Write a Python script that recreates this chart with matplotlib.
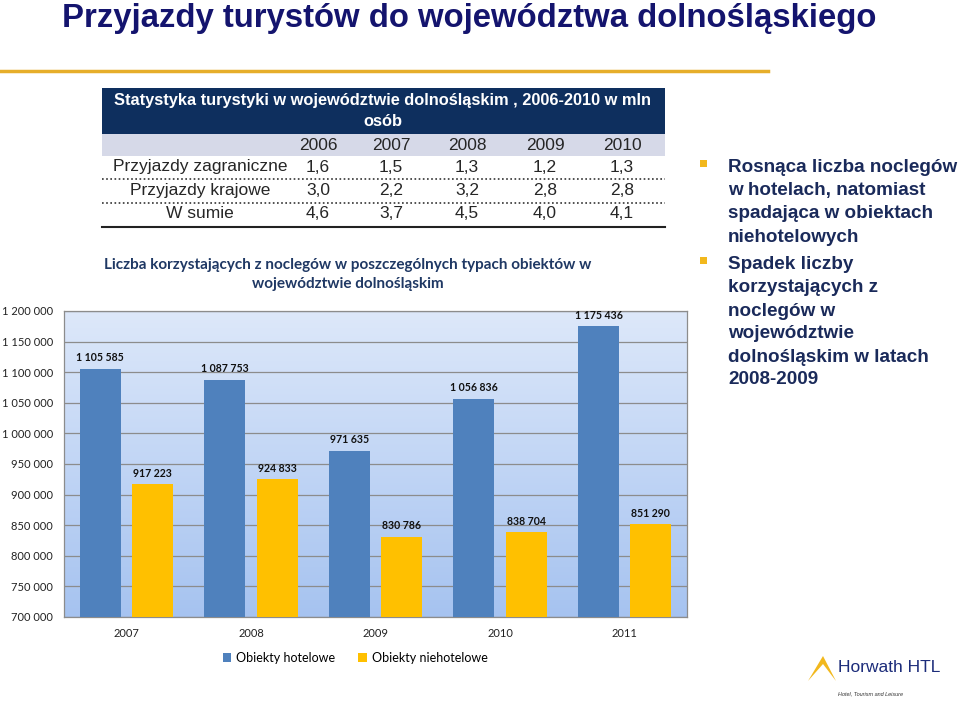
import numpy as np
import matplotlib.pyplot as plt
from matplotlib.patches import Rectangle, Polygon
from matplotlib.lines import Line2D
from matplotlib.colors import LinearSegmentedColormap

# chart data
years = ['2007', '2008', '2009', '2010', '2011']
hotelowe = [1105585, 1087753, 971635, 1056836, 1175436]
niehotelowe = [917223, 924833, 830786, 838704, 851290]
series_names = ['Obiekty hotelowe', 'Obiekty niehotelowe']

# table data
tab_years = ['2006', '2007', '2008', '2009', '2010']
tab_rows = ['Przyjazdy zagraniczne', 'Przyjazdy krajowe', 'W sumie']
tab_vals = [
    ['1,6', '1,5', '1,3', '1,2', '1,3'],
    ['3,0', '2,2', '3,2', '2,8', '2,8'],
    ['4,6', '3,7', '4,5', '4,0', '4,1'],
]

bullets = [
    ['Rosnąca liczba noclegów', 'w hotelach, natomiast', 'spadająca w obiektach', 'niehotelowych'],
    ['Spadek liczby', 'korzystających z', 'noclegów w', 'województwie', 'dolnośląskim w latach', '2008-2009'],
]

W, H = 960, 702
fig = plt.figure(figsize=(9.6, 7.02), dpi=100)
fig.patch.set_facecolor('white')


def fx(px):
    return px / W


def fy(py):
    return 1 - py / H


def fmt(v):
    return f'{v:,}'.replace(',', ' ')


navy_title = '#14146e'
sans = ['Liberation Sans', 'DejaVu Sans']
cal = ['Lato', 'DejaVu Sans']

# slide title and orange rule
fig.text(fx(62), fy(19), 'Przyjazdy turystów do województwa dolnośląskiego',
         fontsize=23.7, fontweight='bold', color=navy_title, family=sans,
         ha='left', va='center')
fig.add_artist(Line2D([0, fx(768)], [fy(71), fy(71)], color='#e6ae2a', lw=2.5))

# table
tx0, tx1 = 102, 665
fig.add_artist(Rectangle((fx(tx0), fy(134)), fx(tx1 - tx0), (134 - 88) / H,
                         facecolor='#0e2f5e', edgecolor='none'))
fig.add_artist(Rectangle((fx(tx0), fy(156)), fx(tx1 - tx0), (156 - 134) / H,
                         facecolor='#d6d9e8', edgecolor='none'))
fig.text(fx(383), fy(100), 'Statystyka turystyki w województwie dolnośląskim , 2006-2010 w mln',
         fontsize=11.8, fontweight='bold', color='white', family=sans, ha='center', va='center')
fig.text(fx(383), fy(122), 'osób', fontsize=11.8, fontweight='bold', color='white',
         family=sans, ha='center', va='center')
col_x = [318, 391, 467, 545, 622]
for x, yr in zip(col_x, tab_years):
    fig.text(fx(x), fy(145), yr, fontsize=12.5, color='#262626', family=sans, ha='center', va='center')
row_y = [167, 190, 214]
for ry, name, vals in zip(row_y, tab_rows, tab_vals):
    fig.text(fx(200), fy(ry), name, fontsize=12.5, color='#262626', family=sans, ha='center', va='center')
    for x, v in zip(col_x, vals):
        fig.text(fx(x), fy(ry), v, fontsize=12.5, color='#262626', family=sans, ha='center', va='center')
for ly in [179, 203]:
    fig.add_artist(Line2D([fx(tx0), fx(tx1)], [fy(ly), fy(ly)], color='#333333', lw=1.2,
                          linestyle=(0, (1, 1.5))))
fig.add_artist(Line2D([fx(tx0), fx(tx1)], [fy(227), fy(227)], color='#222222', lw=1.5))

# bullets on the right
by = 168
for block in bullets:
    fig.add_artist(Rectangle((fx(700), fy(by - 1)), fx(7), 7 / H, facecolor='#f2b81d', edgecolor='none'))
    for line in block:
        fig.text(fx(728), fy(by), line, fontsize=13.6, fontweight='bold', color='#1a2a5a',
                 family=sans, ha='left', va='center')
        by += 23
    by += 5

# chart title
fig.text(fx(348), fy(265), 'Liczba korzystających z noclegów w poszczególnych typach obiektów w',
         fontsize=11, fontweight='bold', color='#1f3864', family=cal, ha='center', va='center')
fig.text(fx(348), fy(284), 'województwie dolnośląskim',
         fontsize=11, fontweight='bold', color='#1f3864', family=cal, ha='center', va='center')

# bar chart
ax = fig.add_axes([fx(64), fy(617), fx(687 - 64), (617 - 311) / H])
ymin, ymax = 700000, 1200000
grad = np.linspace(0, 1, 256).reshape(-1, 1)
cmap = LinearSegmentedColormap.from_list('bg', ['#a6c3f0', '#dde8fa'])
x = np.arange(len(years))
ax.imshow(grad, aspect='auto', cmap=cmap, origin='lower',
          extent=[-0.5, len(years) - 0.5, ymin, ymax], zorder=0)
ax.set_xlim(-0.5, len(years) - 0.5)
ax.set_ylim(ymin, ymax)
ax.set_yticks(np.arange(ymin, ymax + 1, 50000))
ax.yaxis.grid(True, color='#8c8c8c', lw=0.9)
ax.set_axisbelow(True)

bw = 0.33
off = 0.21
b1 = ax.bar(x - off, hotelowe, bw, color='#4f81bd', zorder=3, label=series_names[0])
b2 = ax.bar(x + off, niehotelowe, bw, color='#ffc000', zorder=3, label=series_names[1])
for bars in (b1, b2):
    for r in bars:
        ax.text(r.get_x() + r.get_width() / 2, r.get_height() + 9000, fmt(int(r.get_height())),
                ha='center', va='bottom', fontsize=7.6, fontweight='bold', color='#111111',
                family=cal, zorder=4)

ax.set_xticks(x)
ax.set_xticklabels(years)
ax.set_yticklabels([fmt(v) for v in ax.get_yticks().astype(int)])
ax.tick_params(axis='both', length=0, labelsize=8, colors='#222222', pad=8)
for lab in ax.get_xticklabels() + ax.get_yticklabels():
    lab.set_family(cal)
for s in ax.spines.values():
    s.set_color('#8c8c8c')
    s.set_linewidth(0.9)

leg = fig.legend(handles=[b1, b2], labels=series_names, loc='center',
                 bbox_to_anchor=(fx(355), fy(658)), ncol=2, frameon=False,
                 handlelength=0.7, handleheight=0.7, handletextpad=0.4, columnspacing=1.8,
                 prop={'family': cal, 'size': 9})

# logo
fig.add_artist(Polygon([[fx(808), fy(681)], [fx(823), fy(656)], [fx(836), fy(681)],
                        [fx(823), fy(664)]], closed=True, facecolor='#f2b81d', edgecolor='none'))
fig.text(fx(838), fy(668), 'Horwath HTL', fontsize=12.5, color='#1c2c7a', family=sans,
         ha='left', va='center')
fig.text(fx(838), fy(694), 'Hotel, Tourism and Leisure', fontsize=4, style='italic',
         color='#333333', family=sans, ha='left', va='center')

fig.savefig('out.png', dpi=100)
